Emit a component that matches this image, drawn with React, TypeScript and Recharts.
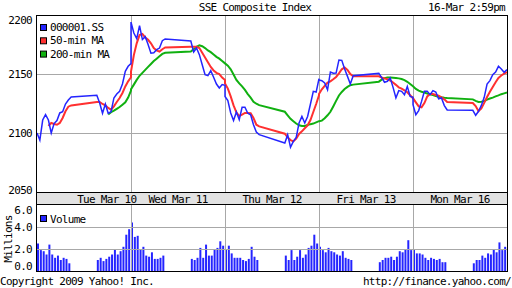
import React from 'react';
import { LineChart, Line, XAxis, YAxis, ReferenceLine, BarChart, Bar } from 'recharts';

// ---- time grid ----
const SLOT_TIMES = ['9:30','9:40','9:50','10:00','10:10','10:20','10:30','10:40','10:50','11:00','11:10','11:20','11:30',
  '13:00','13:10','13:20','13:30','13:40','13:50','14:00','14:10','14:20','14:30','14:40','14:50','15:00'];
const VOL_TIMES = ['9:35','9:45','9:55','10:05','10:15','10:25','10:35','10:45','10:55','11:05','11:15','11:25',
  '13:05','13:15','13:25','13:35','13:45','13:55','14:05','14:15','14:25','14:35','14:45','14:55'];
const DAY_LABELS = ['Tue Mar 10', 'Wed Mar 11', 'Thu Mar 12', 'Fri Mar 13', 'Mon Mar 16'];
const DAY_LABEL_TICKS = [245, 495, 825, 1155, 1485];
const DAY_BREAKS = [330, 660, 990, 1320];
const PRICE_TICKS = [2050, 2100, 2150, 2200];
const PRICE_GRID = [2100, 2150];
const VOL_TICKS = [0, 2, 4, 6];
const VOL_GRID = [2, 4];

// ---- 000001.SS price ----
const priceTue = [2100, 2094, 2111, 2115.5, 2111, 2100, 2108, 2110.5, 2117, 2118, 2124.5, 2128, 2130.5, 2132, 2125.4, 2116.7, 2124.6, 2116.7, 2118, 2129.7, 2133, 2135.3, 2141.5, 2152.3, 2156.5, 2158.8];
const priceWed = [2194, 2184.7, 2180, 2191, 2179.2, 2181.6, 2175, 2167.6, 2168, 2170.6, 2172, 2178.2, 2179.7, 2178, 2168.6, 2172, 2166.4, 2157.9, 2149.4, 2148.6, 2152.8, 2147.2, 2141.5, 2138.1, 2141, 2140.4];
const priceThu = [2131, 2127.4, 2117, 2110.5, 2117.8, 2111.3, 2121.8, 2121.8, 2116.7, 2115.5, 2107, 2100.8, 2098.6, 2091.5, 2098.6, 2088, 2092.9, 2096.3, 2108.5, 2114, 2108.5, 2114, 2124.6, 2135.3, 2134.7, 2146];
const priceFri = [2145, 2144.3, 2142.4, 2136.7, 2151.7, 2150.6, 2150.8, 2161.9, 2161.6, 2154.2, 2148, 2141.5, 2148.5, 2150.5, 2147, 2143, 2143.8, 2146.6, 2138.7, 2129.7, 2135.9, 2135.3, 2132.5, 2139.5, 2131, 2130.2];
const priceMon = [2124, 2115.5, 2119, 2126.8, 2135.3, 2135.3, 2132.5, 2135.9, 2134.7, 2129, 2129.7, 2123.2, 2119.5, 2119.2, 2115, 2118.4, 2123.4, 2130.2, 2141.5, 2144.4, 2149.4, 2151.7, 2156.5, 2154.2, 2151.4, 2153.7];

// ---- 50-min MA ----
const ma50Tue = [null, null, null, null, 2106, 2108.5, 2107.6, 2107, 2108.5, 2112.7, 2118.4, 2122.3, 2123.4, 2126.3, 2126.3, 2124.6, 2123.4, 2121.2, 2119.8, 2122.6, 2126.3, 2129.7, 2133.9, 2139.5, 2143.8, 2147.2];
const ma50Wed = [2152, 2166, 2176, 2183, 2184, 2181, 2179, 2176, 2172, 2170, 2169, 2171, 2172.5, 2173, 2173, 2173, 2172, 2168, 2164, 2160, 2156, 2153, 2151, 2150, 2147, 2145];
const ma50Thu = [2142, 2137.6, 2131, 2123.4, 2117.5, 2114.4, 2115.5, 2117, 2117, 2116.7, 2112.7, 2107, 2105.6, 2099.4, 2096.3, 2094, 2092.9, 2095.2, 2099.2, 2101.4, 2104, 2106.5, 2111, 2117.8, 2124.6, 2132];
const ma50Fri = [2133, 2137, 2140, 2142.8, 2143.8, 2145.5, 2147.5, 2150.5, 2154, 2155.5, 2153.5, 2150, 2148, 2148, 2147, 2146.3, 2145.5, 2144.5, 2142.8, 2140.8, 2138.7, 2137.6, 2136.2, 2134.5, 2132, 2129.5];
const ma50Mon = [2129.5, 2126, 2122.6, 2121.8, 2125.4, 2131, 2133, 2133, 2132.2, 2131.6, 2130.2, 2128.5, 2126.3, 2125.4, 2122.8, 2118.5, 2120.8, 2125.5, 2130.5, 2135, 2139, 2143, 2146.6, 2148.7, 2150.3, 2151.5];

// ---- 200-min MA ----
const ma200Tue = [null, null, null, null, null, null, null, null, null, null, null, null, null, null, null, null, null, 2115.8, 2117.6, 2119, 2120.5, 2122, 2124, 2126, 2130, 2136];
const ma200Wed = [2137, 2141, 2145, 2148.5, 2151, 2153.5, 2156, 2158.5, 2161, 2163, 2165, 2167, 2168, 2169, 2171, 2173, 2174.3, 2173.5, 2172, 2170, 2168.5, 2166.5, 2164.5, 2163, 2161, 2159];
const ma200Thu = [2159, 2157, 2154, 2149.5, 2145, 2142, 2139.5, 2136.5, 2133, 2130, 2126.5, 2124.8, 2123.6, 2118, 2115, 2112, 2110, 2108, 2106.5, 2106, 2106, 2106.8, 2107.5, 2108, 2109, 2110];
const ma200Fri = [2110, 2110.5, 2112.5, 2115, 2118, 2122.5, 2127.2, 2131.8, 2134.8, 2137.3, 2139.1, 2140.5, 2141, 2143.5, 2145.2, 2146.5, 2147, 2147, 2146.8, 2146.6, 2146.3, 2145.7, 2144.8, 2143.4, 2141.6, 2139.6];
const ma200Mon = [2139.6, 2137.3, 2135.9, 2135, 2134.2, 2133.5, 2132.8, 2132.2, 2131.4, 2130.8, 2130.3, 2129.9, 2129.6, 2128.5, 2127.2, 2126.3, 2126.5, 2127, 2128.3, 2129.2, 2130, 2131, 2131.9, 2132.9, 2133.6, 2134.3];

// ---- Volume (millions) ----
const volTue = [2.5, 1.9, 1.8, 1.5, 2.4, 1.5, 1.2, 1.4, 1.0, 1.2, 1.1, 0.7, 1.0, 1.2, 0.9, 1.1, 1.3, 1.5, 2.0, 1.5, 1.8, 2.2, 3.3, 3.8];
const volWed = [4.4, 3.1, 3.2, 2.0, 2.2, 1.4, 1.3, 1.7, 1.1, 1.1, 1.2, 1.4, 1.1, 1.0, 1.2, 2.1, 1.2, 2.4, 1.4, 1.4, 2.0, 2.1, 2.7, 2.3];
const volThu = [2.0, 2.3, 1.6, 1.2, 1.2, 1.2, 1.0, 0.9, 1.1, 2.2, 1.3, 1.0, 1.4, 1.0, 1.9, 1.0, 1.3, 1.9, 1.2, 1.5, 2.1, 2.3, 3.3, 2.5];
const volFri = [2.2, 1.9, 1.7, 2.1, 1.8, 1.7, 1.5, 1.4, 1.8, 1.2, 1.1, 1.0, 0.8, 1.0, 1.2, 1.2, 1.3, 1.0, 1.3, 1.8, 1.7, 2.0, 2.8, 1.9];
const volMon = [1.9, 1.6, 1.6, 1.5, 1.2, 1.0, 1.2, 1.1, 1.0, 1.1, 0.8, 0.8, 0.7, 1.0, 1.0, 1.4, 1.2, 1.6, 1.5, 2.0, 1.7, 2.6, 1.9, 2.2];

const PRICE_DAYS = [priceTue, priceWed, priceThu, priceFri, priceMon];
const MA50_DAYS = [ma50Tue, ma50Wed, ma50Thu, ma50Fri, ma50Mon];
const MA200_DAYS = [ma200Tue, ma200Wed, ma200Thu, ma200Fri, ma200Mon];
const VOL_DAYS = [volTue, volWed, volThu, volFri, volMon];

const OPEN = 9 * 60 + 30;
const DAY_SPAN = 330;
const minutesOf = (s: string) => {
  const [h, m] = s.split(':').map(Number);
  return h * 60 + m - OPEN;
};

const priceRows: any[] = [];
PRICE_DAYS.forEach((day, d) => {
  SLOT_TIMES.forEach((time, s) => {
    priceRows.push({ t: d * DAY_SPAN + minutesOf(time), price: day[s], ma50: MA50_DAYS[d][s], ma200: MA200_DAYS[d][s] });
  });
});
const volRows: any[] = [];
VOL_DAYS.forEach((day, d) => {
  VOL_TIMES.forEach((time, s) => {
    volRows.push({ t: d * DAY_SPAN + minutesOf(time), v: day[s] });
  });
});

const BLUE = '#2424ff';
const RED = '#ff3030';
const GREEN = '#10b010';
const GRID = '#a8a8a8';
const FONT = '"DejaVu Sans Mono", monospace';
const txt: any = { fontFamily: FONT, fontSize: 11, letterSpacing: -0.7, fill: '#000' };

const PriceTick = (p: any) => {
  const v = p.payload.value;
  const dy = v === PRICE_TICKS[PRICE_TICKS.length - 1] ? 9 : v === PRICE_TICKS[0] ? 1.5 : 4;
  return <text x={p.x} y={p.y + dy} textAnchor="end" style={txt}>{v}</text>;
};
const VolTick = (p: any) => {
  const v = p.payload.value;
  const dy = v === VOL_TICKS[VOL_TICKS.length - 1] ? 9 : v === VOL_TICKS[0] ? -0.8 : 4;
  return <text x={p.x} y={p.y + dy} textAnchor="end" style={txt}>{Number(v).toFixed(1)}</text>;
};
const DayTick = (p: any) => {
  const i = DAY_LABEL_TICKS.indexOf(p.payload.value);
  return <text x={p.x} y={p.y + 11} textAnchor="middle" style={txt}>{DAY_LABELS[i]}</text>;
};

const LEGEND = [
  { name: '000001.SS', color: BLUE },
  { name: '50-min MA', color: RED },
  { name: '200-min MA', color: GREEN },
];

export default function App() {
  return (
    <div style={{ position: 'absolute', left: 0, top: 0, width: 512, height: 288, background: '#fff', overflow: 'hidden' }}>
      {/* x label band */}
      <div style={{ position: 'absolute', left: 36, top: 193, width: 472, height: 11, background: '#e2e2e2', borderLeft: '1px solid #000', borderRight: '1px solid #000', boxSizing: 'border-box' }} />
      <div style={{ position: 'absolute', left: 0, top: 0 }}>
        <LineChart width={512} height={205} data={priceRows} margin={{ top: 15, right: 5, bottom: 0, left: 0 }}>
          <XAxis dataKey="t" type="number" domain={[0, 1650]} ticks={DAY_LABEL_TICKS} interval={0} height={13}
            axisLine={false} tickLine={false} tickSize={0} tickMargin={0} tick={(p: any) => <DayTick {...p} />} allowDataOverflow />
          <YAxis type="number" domain={[2050, 2200]} ticks={PRICE_TICKS} interval={0} width={37}
            axisLine={false} tickLine={false} tickSize={0} tickMargin={5} tick={(p: any) => <PriceTick {...p} />} allowDataOverflow />
          {DAY_BREAKS.map((x) => <ReferenceLine key={'x' + x} x={x} stroke={GRID} shapeRendering="crispEdges" />)}
          {PRICE_GRID.map((y) => <ReferenceLine key={'y' + y} y={y} stroke={GRID} shapeRendering="crispEdges" />)}
          <Line type="linear" dataKey="ma200" stroke={GREEN} strokeWidth={2} dot={false} isAnimationActive={false} />
          <Line type="linear" dataKey="ma50" stroke={RED} strokeWidth={2} dot={false} isAnimationActive={false} />
          <Line type="linear" dataKey="price" stroke={BLUE} strokeWidth={1.5} dot={false} isAnimationActive={false} />
        </LineChart>
      </div>
      <div style={{ position: 'absolute', left: 0, top: 190 }}>
        <BarChart width={512} height={86} data={volRows} margin={{ top: 15, right: 5, bottom: 5, left: 0 }}>
          <XAxis dataKey="t" type="number" domain={[0, 1650]} hide height={0} allowDataOverflow />
          <YAxis type="number" domain={[0, 6]} ticks={VOL_TICKS} interval={0} width={37}
            axisLine={false} tickLine={false} tickSize={0} tickMargin={5} tick={(p: any) => <VolTick {...p} />} allowDataOverflow />
          {DAY_BREAKS.map((x) => <ReferenceLine key={'x' + x} x={x} stroke={GRID} shapeRendering="crispEdges" />)}
          {VOL_GRID.map((y) => <ReferenceLine key={'y' + y} y={y} stroke={GRID} shapeRendering="crispEdges" />)}
          <Bar dataKey="v" fill={BLUE} barSize={2} isAnimationActive={false} />
        </BarChart>
      </div>
      {/* frames */}
      <div style={{ position: 'absolute', left: 36, top: 15, width: 472, height: 178, border: '1px solid #000', boxSizing: 'border-box' }} />
      <div style={{ position: 'absolute', left: 36, top: 204, width: 472, height: 68, border: '1px solid #000', boxSizing: 'border-box' }} />
      {/* texts */}
      <svg width={512} height={288} style={{ position: 'absolute', left: 0, top: 0 }}>
        <text x={255} y={11} textAnchor="middle" style={txt}>SSE Composite Index</text>
        <text x={505} y={11} textAnchor="end" style={txt}>16-Mar 2:59pm</text>
        {LEGEND.map((l, i) => (
          <g key={l.name}>
            <rect x={40.5} y={24.5 + i * 13.3} width={6} height={6} fill={l.color} stroke="#000" strokeWidth={1} />
            <text x={50} y={31 + i * 13.3} style={txt}>{l.name}</text>
          </g>
        ))}
        <rect x={40.5} y={215.5} width={6} height={6} fill={BLUE} stroke="#000" strokeWidth={1} />
        <text x={50} y={223} style={txt}>Volume</text>
        <text x={11.5} y={239} textAnchor="middle" transform="rotate(-90 11.5 239)" style={txt}>Millions</text>
        <text x={0} y={284.5} style={txt}>Copyright 2009 Yahoo! Inc.</text>
        <text x={511} y={284.5} textAnchor="end" style={txt}>http://finance.yahoo.com/</text>
      </svg>
    </div>
  );
}
